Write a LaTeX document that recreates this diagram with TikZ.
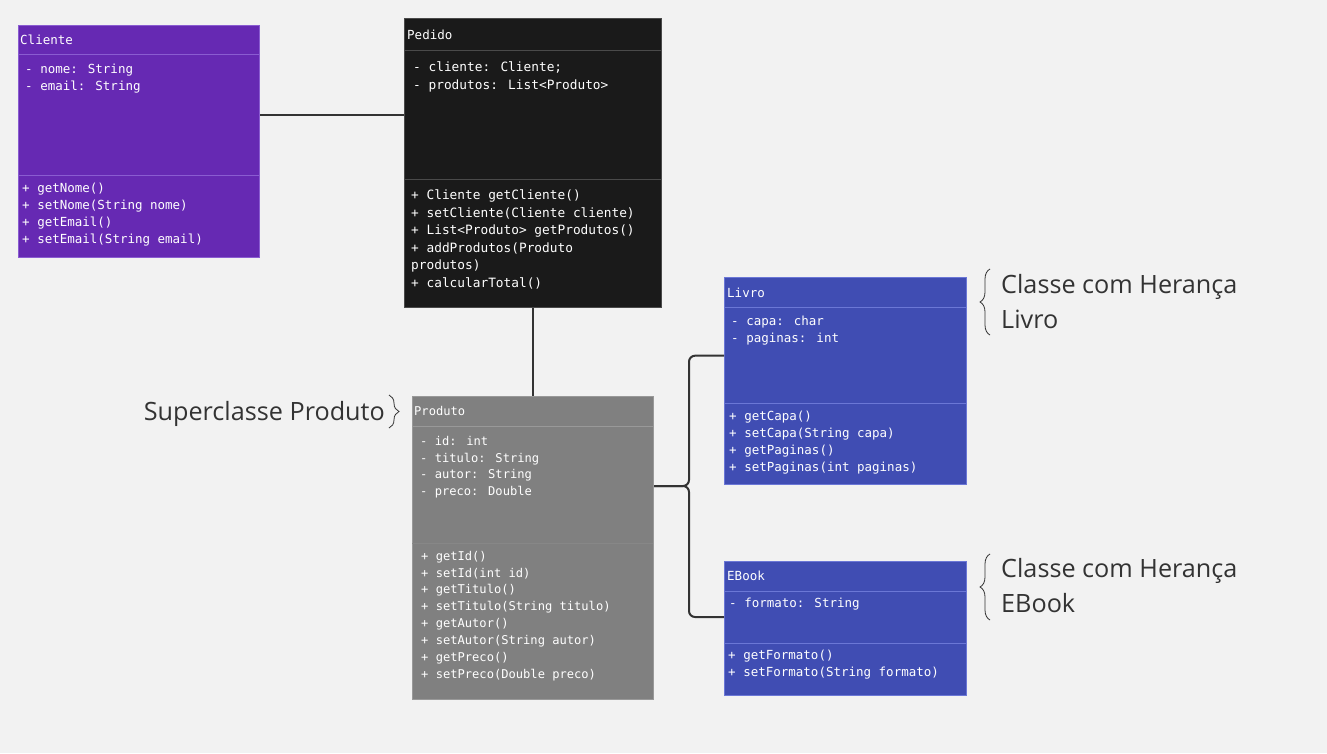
\documentclass[tikz,border=0pt]{standalone}
\usepackage{fontspec}
\setmainfont{Open Sans}
\newfontfamily\classfont{DejaVu Sans Mono}
\usetikzlibrary{decorations.pathreplacing}

\definecolor{bgcol}{HTML}{F2F2F2}
\definecolor{clientecol}{HTML}{6629B3}
\definecolor{clienteline}{HTML}{8A5CD1}
\definecolor{pedidocol}{HTML}{1A1A1A}
\definecolor{pedidoline}{HTML}{4A4A4A}
\definecolor{produtocol}{HTML}{808080}
\definecolor{produtoline}{HTML}{999999}
\definecolor{produtodiv}{HTML}{878787}
\definecolor{herancacol}{HTML}{404DB3}
\definecolor{herancaline}{HTML}{6B77D6}
\definecolor{linkcol}{HTML}{333333}

\tikzset{
  classbox/.style={draw, anchor=north west, inner sep=0pt, line width=1pt},
  classtext/.style={anchor=north west, inner sep=0pt, align=left, text=white,
    font=\classfont\fontsize{12.5}{17}\selectfont},
  link/.style={draw=linkcol, line width=2pt},
  note/.style={text=linkcol, inner sep=0pt, font=\fontsize{25.2}{35.5}\selectfont},
  notebrace/.style={draw=linkcol, line width=0.8pt, decorate, decoration={brace, amplitude=10pt}},
}

\begin{document}
\begin{tikzpicture}[x=1pt,y=-1pt]
    \fill[bgcol] (0,0) rectangle (1327,753);
    \useasboundingbox (0,0) rectangle (1327,753);

    \node[classbox, fill=clientecol, draw=clienteline, minimum width=241, minimum height=232] (cliente) at (18,25) {};
    \draw[clienteline] (18,54) -- (259,54);
    \draw[clienteline] (18,175) -- (259,175);
    \node[classtext] (clientehead) at (20,34.7) {Cliente};
    \node[classtext] (clienteattr) at (25,63.7) {- nome: String\\- email: String};
    \node[classtext] (clientemet) at (22,182.7) {+ getNome()\\+ setNome(String nome)\\+ getEmail()\\+ setEmail(String email)};

    \node[classbox, fill=pedidocol, draw=pedidoline, minimum width=257, minimum height=289] (pedido) at (404,18) {};
    \draw[pedidoline] (404,50) -- (661,50);
    \draw[pedidoline] (404,179) -- (661,179);
    \node[classtext] (pedidohead) at (407,29.7) {Pedido};
    \node[classtext, font=\classfont\fontsize{12.8}{17.7}\selectfont] (pedidoattr) at (413,61.7) {- cliente: Cliente;\\- produtos: List<Produto>};
    \node[classtext, font=\classfont\fontsize{12.8}{17.6}\selectfont] (pedidomet) at (411,189.5) {+ Cliente getCliente()\\+ setCliente(Cliente cliente)\\+ List<Produto> getProdutos()\\+ addProdutos(Produto\\produtos)\\+ calcularTotal()};

    \node[classbox, fill=produtocol, draw=produtoline, minimum width=241, minimum height=303] (produto) at (412,396) {};
    \draw[produtoline] (412,426) -- (653,426);
    \draw[produtodiv] (412,543) -- (653,543);
    \node[classtext, font=\classfont\fontsize{12.1}{16.9}\selectfont] (produtohead) at (414,405.7) {Produto};
    \node[classtext, font=\classfont\fontsize{12.1}{16.9}\selectfont] (produtoattr) at (420,435.7) {- id: int\\- titulo: String\\- autor: String\\- preco: Double};
    \node[classtext, font=\classfont\fontsize{12.1}{16.9}\selectfont] (produtomet) at (421,550.7) {+ getId()\\+ setId(int id)\\+ getTitulo()\\+ setTitulo(String titulo)\\+ getAutor()\\+ setAutor(String autor)\\+ getPreco()\\+ setPreco(Double preco)};

    \node[classbox, fill=herancacol, draw=herancaline, minimum width=242, minimum height=207] (livro) at (724,277) {};
    \draw[herancaline] (724,307) -- (966,307);
    \draw[herancaline] (724,403) -- (966,403);
    \node[classtext] (livrohead) at (727,287.7) {Livro};
    \node[classtext] (livroattr) at (731,315.7) {- capa: char\\- paginas: int};
    \node[classtext] (livromet) at (729,410.7) {+ getCapa()\\+ setCapa(String capa)\\+ getPaginas()\\+ setPaginas(int paginas)};

    \node[classbox, fill=herancacol, draw=herancaline, minimum width=242, minimum height=134] (ebook) at (724,561) {};
    \draw[herancaline] (724,591) -- (966,591);
    \draw[herancaline] (724,643) -- (966,643);
    \node[classtext] (ebookhead) at (727,570.7) {EBook};
    \node[classtext] (ebookattr) at (729,597.7) {- formato: String};
    \node[classtext] (ebookmet) at (728,649.7) {+ getFormato()\\+ setFormato(String formato)};

    \draw[link] (cliente.east |- 0,115) -- (pedido.west |- 0,115);
    \draw[link] (pedido.south) -- (produto.north);
    \coordinate (ramo) at (689,486);
    \draw[link, rounded corners=6] (produto.east |- ramo) -- (ramo) |- (livro.west |- 0,355.7);
    \draw[link, rounded corners=6] (produto.east |- ramo) -- (ramo) |- (ebook.west |- 0,617);

    \draw[notebrace] (389,395) -- (389,428);
    \draw[notebrace] (990,335) -- (990,269);
    \draw[notebrace] (990,620) -- (990,554);

    \node[note, anchor=base east] (superlabel) at (385,420.7) {Superclasse Produto};
    \node[note, anchor=north west, align=left] (livrolabel) at (1001,274.1) {Classe com Herança\\Livro};
    \node[note, anchor=north west, align=left] (ebooklabel) at (1001,557.8) {Classe com Herança\\EBook};
\end{tikzpicture}
\end{document}
